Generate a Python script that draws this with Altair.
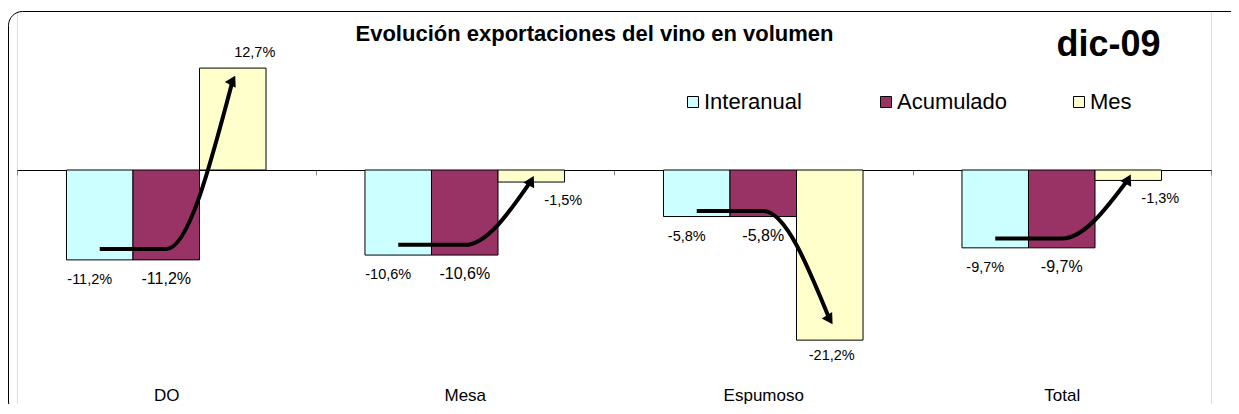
import altair as alt
import pandas as pd

# ---- data ----
categories = ["DO", "Mesa", "Espumoso", "Total"]
series = ["Interanual", "Acumulado", "Mes"]
interanual = [-11.2, -10.6, -5.8, -9.7]
acumulado = [-11.2, -10.6, -5.8, -9.7]
mes = [12.7, -1.5, -21.2, -1.3]
title_text = "Evolución exportaciones del vino en volumen"
period_text = "dic-09"
colors = ["#CCFFFF", "#993366", "#FFFFCC"]

FONT = "Liberation Sans"

rows = []
for i, c in enumerate(categories):
    for j, (s, vals) in enumerate(zip(series, [interanual, acumulado, mes])):
        rows.append({"cat": c, "serie": s, "idx": j, "value": vals[i]})
df = pd.DataFrame(rows)

# arrow annotation path follows the bar values of each category
arrow_rows = []
for i, c in enumerate(categories):
    vals = [interanual[i], acumulado[i], mes[i]]
    up = vals[2] > vals[1]
    for j, s in enumerate(series):
        arrow_rows.append({"cat": c, "serie": s, "idx": j,
                           "ay": vals[j] * 0.88,
                           "ang": 28 if up else 148,
                           "last": j == 2})
adf = pd.DataFrame(arrow_rows)

W, H = 1194, 393
ZERO = 159
x_enc = alt.X("cat:N", sort=categories, title=None,
              scale=alt.Scale(paddingInner=0, paddingOuter=0),
              axis=alt.Axis(orient="bottom", offset=-(H - ZERO), domainColor="black",
                            domainWidth=1, tickColor="#888888", tickSize=5,
                            tickBand="extent", labelPadding=212, labelFont=FONT,
                            labelFontSize=17, labelColor="black", labelAngle=0))
xo_enc = alt.XOffset("serie:N", sort=series,
                     scale=alt.Scale(paddingInner=0, paddingOuter=0.744))
yscale = alt.Scale(domain=[-(H - ZERO) / 8.025, ZERO / 8.025], nice=False, zero=False)

base = alt.Chart(df)

bars = base.mark_bar(stroke="black", strokeWidth=1).encode(
    x=x_enc,
    xOffset=xo_enc,
    y=alt.Y("value:Q", scale=yscale, axis=None),
    color=alt.Color("serie:N", sort=series,
                    scale=alt.Scale(domain=series, range=colors),
                    legend=alt.Legend(orient="none", legendX=665, legendY=80,
                                      direction="horizontal", title=None,
                                      columns=3, gridAlign="all",
                                      labelFont=FONT, labelFontSize=22,
                                      labelColor="black", symbolType="square",
                                      symbolSize=121, symbolStrokeColor="black",
                                      symbolStrokeWidth=1, columnPadding=60,
                                      labelOffset=0, padding=0)),
)

arrow_line = alt.Chart(adf).mark_line(color="black", strokeWidth=4,
                                      interpolate="monotone").encode(
    x=alt.X("cat:N", sort=categories),
    xOffset=alt.XOffset("serie:N", sort=series),
    y=alt.Y("ay:Q", scale=yscale, axis=None),
    detail="cat:N",
    order="idx:Q",
)

arrow_head = alt.Chart(adf).mark_point(shape="triangle-up", filled=True,
                                       color="black", size=150, opacity=1).encode(
    x=alt.X("cat:N", sort=categories),
    xOffset=alt.XOffset("serie:N", sort=series),
    y=alt.Y("ay:Q", scale=yscale, axis=None),
    angle=alt.Angle("ang:Q", scale=None),
).transform_filter("datum.last")

lab_expr = ("(datum.value < 0 ? '-' : '') + "
            "replace(format(abs(datum.value), '.1f'), '.', ',') + '%'")


def labels(filt, size, dx, dy):
    return base.mark_text(font=FONT, fontSize=size, dx=dx, dy=dy,
                          baseline="alphabetic", align="center",
                          color="black").encode(
        x=alt.X("cat:N", sort=categories),
        xOffset=alt.XOffset("serie:N", sort=series),
        y=alt.Y("value:Q", scale=yscale, axis=None),
        text="lab:N",
    ).transform_calculate(lab=lab_expr).transform_filter(filt)


lab_i = labels("datum.serie == 'Interanual'", 14.5, -10, 24)
lab_a = labels("datum.serie == 'Acumulado'", 16, 0, 24)
lab_m_pos = labels("datum.serie == 'Mes' && datum.value > 0", 14.5, 22, -11)
lab_m_small = labels("datum.serie == 'Mes' && datum.value < 0 && datum.value > -10", 14.5, 32, 23)
lab_m_big = labels("datum.serie == 'Mes' && datum.value <= -10", 14.5, 2, 20)

title_mark = alt.Chart(pd.DataFrame({"t": [title_text]})).mark_text(
    font=FONT, fontSize=22, fontWeight="bold", align="center",
    baseline="alphabetic", color="black").encode(
    x=alt.value(577.5), y=alt.value(29.5), text="t:N")

period_mark = alt.Chart(pd.DataFrame({"t": [period_text]})).mark_text(
    font=FONT, fontSize=36, fontWeight="bold", align="center",
    baseline="alphabetic", color="black").encode(
    x=alt.value(1091.5), y=alt.value(44.5), text="t:N")

# rounded chart-area frame (decoration); its right and bottom edges fall outside the picture
frame = alt.Chart(pd.DataFrame({"f": [1]})).mark_rect(
    filled=False, stroke="black", strokeWidth=1, cornerRadius=14).encode(
    x=alt.value(-8.5), x2=alt.value(1236), y=alt.value(0.5), y2=alt.value(H + 12))

chart = alt.layer(
    frame, bars, arrow_line, arrow_head, lab_i, lab_a, lab_m_pos, lab_m_small,
    lab_m_big, title_mark, period_mark
).properties(
    width=W, height=H,
    padding={"left": 9, "top": 3, "right": 20, "bottom": 0},
    autosize=alt.AutoSizeParams(type="none"),
).configure_view(
    stroke=None, fill="white"
).configure(background="white")

chart.save("out.html", embed_options={"renderer": "svg", "actions": False})
